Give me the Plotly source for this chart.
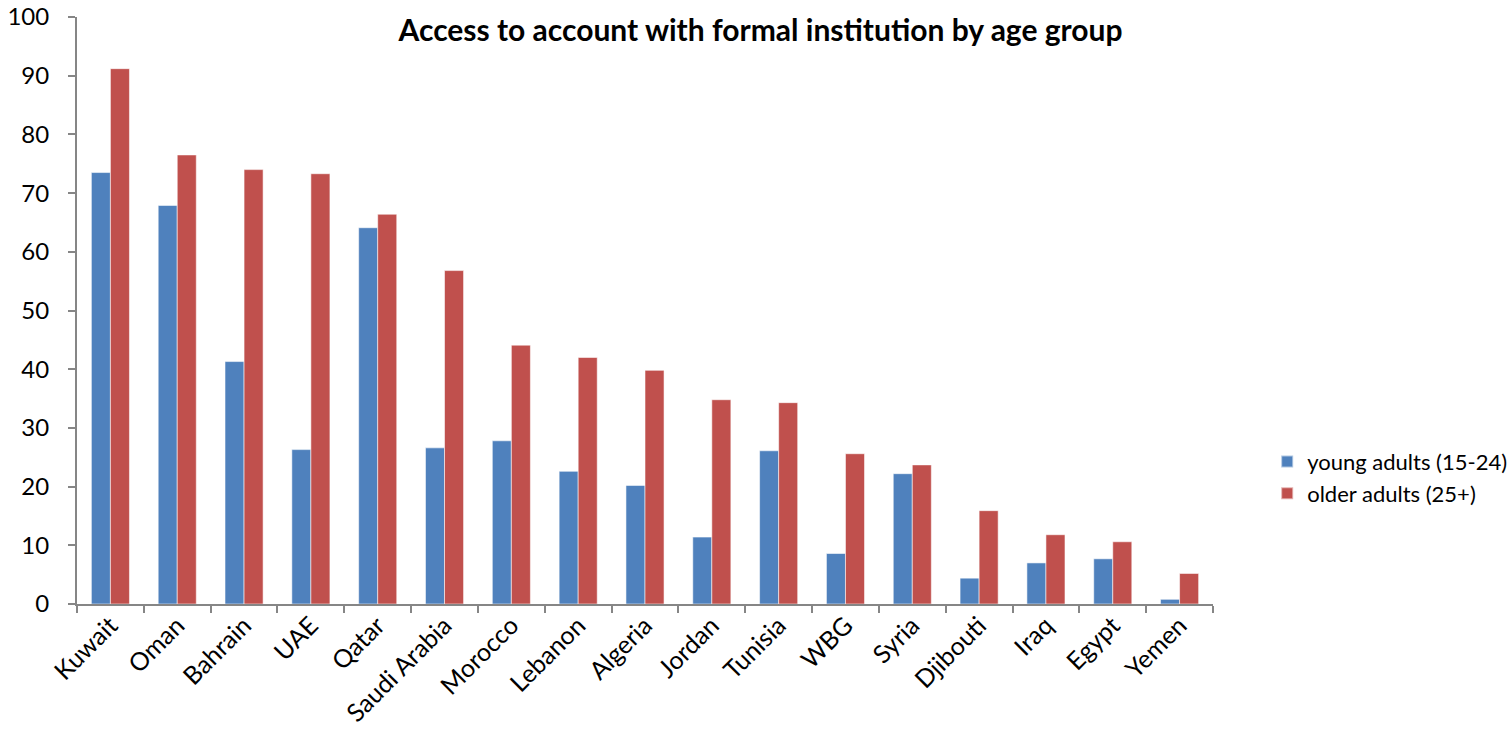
import plotly.graph_objects as go

countries = ["Kuwait", "Oman", "Bahrain", "UAE", "Qatar", "Saudi Arabia", "Morocco",
             "Lebanon", "Algeria", "Jordan", "Tunisia", "WBG", "Syria", "Djibouti",
             "Iraq", "Egypt", "Yemen"]
young = [73.5, 67.9, 41.3, 26.3, 64.1, 26.6, 27.8, 22.6, 20.2, 11.4, 26.1, 8.6, 22.2, 4.4, 7.0, 7.7, 0.8]
older = [91.2, 76.5, 74.0, 73.3, 66.4, 56.8, 44.1, 42.0, 39.8, 34.8, 34.3, 25.6, 23.7, 15.9, 11.8, 10.6, 5.2]
y_ticks = list(range(0, 101, 10))

FONT = "Lato"
AX = "#868686"

fig = go.Figure()
fig.add_trace(go.Bar(x=countries, y=young, name="young adults (15-24)",
                     marker=dict(color="#4F81BD", line=dict(color="rgba(255,255,255,0.55)", width=1))))
fig.add_trace(go.Bar(x=countries, y=older, name="older adults (25+)",
                     marker=dict(color="#C0504D", line=dict(color="rgba(255,255,255,0.55)", width=1))))

fig.update_layout(
    width=1509, height=736,
    margin=dict(l=77, r=296, t=17, b=132, autoexpand=False),
    paper_bgcolor="white", plot_bgcolor="white",
    barmode="group", bargap=0.43, bargroupgap=0,
    font=dict(family=FONT, size=22, color="black"),
    title=dict(text="<b>Access to account with formal institution by age group</b>",
               x=0.504, xanchor="center", xref="container",
               y=1 - 30/736, yanchor="middle", yref="container",
               font=dict(family=FONT, size=30, color="black")),
    legend=dict(x=1.0477, xanchor="left", y=0.215, yanchor="middle",
                font=dict(family=FONT, size=22, color="black"),
                itemsizing="constant", bgcolor="rgba(0,0,0,0)"),
    showlegend=True,
)
fig.update_xaxes(showline=True, linecolor=AX, linewidth=2, ticks="outside", tickson="boundaries",
                 ticklen=7, tickcolor=AX, tickwidth=2, tickangle=-45, showgrid=False,
                 automargin=False, ticklabelstandoff=-5,
                 tickfont=dict(family=FONT, size=25, color="black"))
fig.update_yaxes(range=[0, 100], tickvals=y_ticks, showline=True, linecolor=AX, linewidth=2,
                 ticks="outside", ticklen=7, tickcolor=AX, tickwidth=2, showgrid=False,
                 zeroline=False, ticklabelstandoff=14, automargin=False,
                 tickfont=dict(family=FONT, size=24, color="black"))

fig.write_html("out.html")
